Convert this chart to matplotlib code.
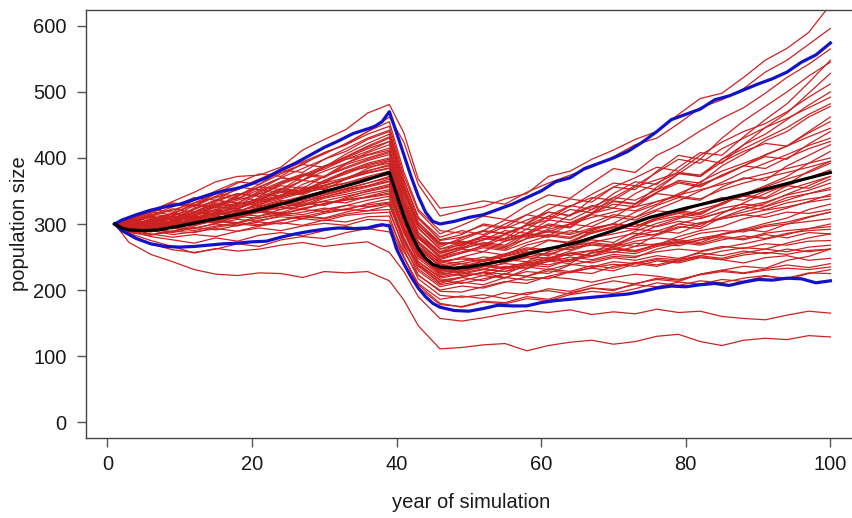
import matplotlib
matplotlib.use("Agg")
import matplotlib.pyplot as plt

plt.rcParams['font.family'] = ['Liberation Sans', 'DejaVu Sans']

# ---- data ----
YRS = [1, 3, 6, 9, 12, 15, 18, 21, 24, 27, 30, 33, 36, 39,
       41, 43, 46,
       49, 52, 55, 58, 61, 64, 67, 70, 73, 76, 79, 82, 85, 88, 91, 94, 97, 100]

runs = [
    # outliers
    [300,272,254,243,231,224,222,226,225,219,228,226,228,214, 185,146,111, 113,117,119,108,116,121,124,118,122,130,133,122,116,124,127,125,131,129],
    [300,286,275,266,256,263,259,262,268,272,266,270,273,257, 228,190,157, 153,158,164,169,166,170,163,167,164,171,166,168,160,157,155,162,168,165],
    [300,284,270,261,257,262,270,266,276,281,278,287,293,288, 250,208,180, 174,182,179,187,184,193,198,195,202,211,207,214,211,218,222,216,225,231],
    [300,308,320,334,348,364,372,374,386,412,428,443,468,481, 438,368,324, 328,335,330,348,362,374,386,402,420,430,452,476,488,505,530,548,572,596],
    [300,304,313,321,332,340,352,366,378,390,408,420,440,462, 424,360,312, 320,326,338,346,372,380,398,412,428,440,466,490,498,522,548,566,590,632],
    # core runs
    [300,289,281,276,271,279,274,283,287,282,290,296,292,300, 249,210,186, 191,187,196,193,202,198,207,214,209,218,215,224,230,226,232,238,234,240],
    [300,293,285,280,284,281,289,294,290,297,301,298,307,305, 258,222,200, 206,203,212,220,217,228,233,229,240,246,243,252,259,264,262,271,279,285],
    [300,296,290,284,288,293,289,297,302,298,306,303,311,312, 251,204,178, 175,183,181,190,186,196,203,199,210,216,213,224,230,236,233,245,251,262],
    [300,290,284,289,295,291,298,303,300,308,305,313,316,318, 266,229,205, 212,208,219,228,225,238,244,251,249,262,270,276,285,292,301,309,322,330],
    [300,295,291,294,290,297,302,299,306,311,308,315,320,322, 262,217,192, 189,193,187,196,199,194,203,201,208,205,212,209,216,213,221,218,226,225],
    [300,297,292,287,294,300,297,306,311,308,316,322,320,328, 275,236,212, 220,227,224,238,246,255,251,266,279,285,296,293,310,322,331,345,358,372],
    [300,287,283,289,287,295,300,297,305,312,309,318,325,330, 270,223,198, 197,205,213,210,221,228,225,236,241,248,246,258,264,270,277,284,293,300],
    [300,294,297,293,300,304,301,309,314,311,318,323,329,333, 279,238,215, 210,217,224,221,229,226,234,239,236,244,241,249,246,253,257,254,260,262],
    [300,291,288,295,293,301,307,304,313,318,324,321,331,338, 279,237,210, 219,227,236,233,248,259,270,266,283,297,308,318,329,345,358,372,392,410],
    [300,298,294,301,298,306,311,309,316,322,319,328,336,342, 286,243,220, 226,222,232,238,235,246,251,258,255,266,272,279,284,290,298,303,311,318],
    [300,289,292,289,298,305,310,318,315,323,331,337,341,347, 291,251,226, 232,244,252,260,275,271,290,301,318,330,346,360,372,388,405,418,438,455],
    [300,294,298,303,299,308,315,312,322,328,334,332,342,350, 289,243,218, 224,231,228,240,247,243,256,262,271,268,281,290,296,308,315,324,334,345],
    [300,295,290,297,305,301,312,318,325,322,331,338,346,352, 296,253,230, 226,232,228,235,231,239,235,243,240,236,244,250,246,241,249,252,245,248],
    [300,290,295,300,308,304,314,320,317,328,335,342,349,356, 294,248,222, 230,238,246,243,258,265,276,272,289,301,310,322,331,344,356,368,378,392],
    [300,298,296,303,311,307,318,322,330,327,339,345,352,360, 303,262,236, 240,236,245,251,248,256,260,257,266,270,267,276,281,278,286,290,293,296],
    [300,288,293,301,297,308,316,325,322,334,341,348,356,364, 301,254,228, 236,244,254,262,259,274,288,296,310,322,335,350,363,379,392,405,419,430],
    [300,296,302,298,306,314,321,317,329,336,344,352,358,368, 310,266,242, 249,246,255,264,261,272,279,285,292,289,300,309,318,326,333,344,351,362],
    [300,292,297,305,301,312,320,327,336,332,344,353,362,372, 308,259,232, 228,235,240,237,243,250,246,254,251,258,262,259,266,263,270,268,274,275],
    [300,297,303,310,306,318,324,333,341,348,356,362,370,376, 316,273,246, 256,268,264,284,298,294,316,334,330,356,376,372,398,420,436,458,480,500],
    [300,290,299,304,313,321,318,330,338,347,354,362,372,380, 315,265,238, 243,250,247,257,264,261,272,279,286,283,294,302,308,314,321,326,333,338],
    [300,299,306,302,314,320,330,335,344,352,359,368,377,384, 322,278,250, 258,266,262,278,290,286,302,314,310,328,340,336,356,370,366,388,404,420],
    [300,292,301,308,305,318,326,335,341,353,362,370,381,388, 322,272,244, 247,243,251,258,254,264,268,265,274,279,276,286,290,288,296,300,304,308],
    [300,297,307,303,318,330,326,340,354,350,366,380,386,392, 329,283,255, 264,276,290,286,306,322,317,340,358,352,376,398,392,420,446,468,498,528],
    [300,294,305,300,316,326,322,338,350,346,364,376,388,396, 324,270,240, 250,258,253,268,276,272,286,296,292,308,318,314,332,344,340,358,370,382],
    [300,299,306,316,312,328,340,336,352,366,362,380,392,400, 335,287,258, 264,270,266,278,284,280,292,300,296,308,316,311,324,330,327,340,346,352],
    [300,296,308,303,318,332,328,346,358,354,372,384,396,405, 334,280,250, 262,272,268,286,300,296,316,330,326,348,366,362,388,406,426,440,462,478],
    [300,302,298,313,322,336,332,348,362,374,370,390,400,410, 342,293,262, 268,276,284,280,292,300,310,318,326,334,344,352,360,368,376,384,392,400],
    [300,304,311,323,318,334,346,342,360,372,383,398,405,415, 342,287,256, 266,282,278,300,318,312,338,356,352,380,404,398,430,456,478,500,524,545],
    [300,298,312,306,322,336,331,350,364,376,372,392,408,420, 350,299,268, 276,289,285,298,312,306,322,335,331,348,362,356,374,388,402,398,421,440],
    [300,306,302,316,329,324,342,356,352,372,386,398,410,425, 355,302,272, 269,281,276,292,288,300,296,311,306,320,317,330,340,336,350,358,354,368],
    [300,301,315,311,328,342,338,356,370,366,386,402,416,430, 354,299,265, 279,290,306,301,322,338,333,356,370,386,380,404,424,440,452,470,492,512],
    [300,307,318,314,332,346,342,360,376,390,386,406,422,436, 364,310,280, 290,284,300,314,308,327,340,336,356,367,378,372,394,410,422,418,440,462],
    [300,304,313,326,340,336,354,368,382,378,398,414,430,442, 366,308,276, 284,300,295,314,330,326,345,362,358,378,398,392,414,430,446,460,476,492],
    [300,310,322,318,336,350,364,360,380,394,408,420,436,448, 373,319,285, 298,312,307,328,344,339,362,384,378,404,420,441,460,476,498,522,542,565],
    [300,306,318,332,328,346,362,376,372,392,406,422,440,455, 379,322,290, 286,298,293,306,318,313,326,340,336,352,364,358,374,388,384,400,414,425],
    [300,290,296,303,310,318,314,326,334,342,350,358,368,375, 306,254,226, 222,226,219,215,220,217,212,219,224,221,216,223,228,225,230,233,231,235],
    [300,295,301,297,309,316,312,324,333,329,341,350,358,365, 302,255,230, 236,231,242,249,244,256,252,262,258,268,274,270,279,276,284,279,287,285],
    [300,302,297,310,318,314,330,338,352,348,364,378,390,398, 332,281,252, 262,258,274,286,282,300,314,310,330,346,342,364,380,392,404,418,432,445],
    [300,297,308,316,312,330,338,352,348,366,380,392,404,412, 347,298,270, 274,268,278,284,280,290,286,294,300,296,304,300,308,314,310,318,316,322],
    [300,305,316,330,326,342,356,352,370,384,398,410,428,440, 366,310,275, 280,290,286,298,306,302,316,324,320,334,342,338,352,362,370,378,386,395],
    [300,292,298,293,304,312,308,320,326,332,328,340,350,358, 292,240,215, 219,214,225,221,232,228,237,233,242,238,246,252,248,256,262,258,265,268],
    [300,296,291,299,306,302,311,318,314,324,330,336,340,345, 294,256,232, 240,236,248,256,252,266,272,268,282,290,286,300,310,318,326,336,346,355],
    [300,299,294,306,314,322,318,332,340,350,358,368,380,390, 320,266,236, 232,238,234,242,238,246,241,249,245,252,248,256,252,259,255,262,258,262],
    [300,301,311,307,324,336,346,342,362,374,388,400,414,425, 350,295,262, 272,268,284,298,294,314,328,324,346,362,378,374,398,414,430,446,466,482],
    [300,292,297,293,300,306,302,312,318,314,322,328,326,332, 274,232,208, 214,222,218,232,244,240,258,270,266,284,300,296,316,332,346,360,380,395],
    [300,298,306,315,311,326,336,346,342,360,372,386,398,408, 336,282,248, 256,264,260,272,282,278,292,300,296,310,320,316,332,342,338,352,362,372],
    [300,294,291,300,307,314,322,318,330,338,346,354,362,370, 304,252,224, 229,236,232,242,250,246,256,262,258,270,276,272,284,292,288,300,310,318],
    [300,303,310,306,318,327,323,336,348,344,358,368,378,385, 326,282,258, 270,282,296,292,312,328,322,346,364,360,386,408,404,432,458,482,514,548],
    [300,304,300,316,330,326,344,356,370,366,386,402,418,432, 359,303,270, 272,278,274,282,288,284,294,300,296,306,312,308,318,326,322,332,338,342],
    [300,296,304,312,308,322,332,328,344,356,352,368,384,395, 326,273,244, 240,246,242,250,256,252,260,264,260,268,272,268,276,282,278,286,290,292],
]

mean_years = [1,2,3,5,7,10,15,20,25,30,35,39,40,41,42,43,44,45,46,48,50,55,60,65,70,75,80,85,90,95,100]
mean_vals  = [300,294,291,290,291,297,308,319,333,349,364,378,345,312,285,263,248,239,235,233,235,245,260,272,290,310,324,337,350,364,378]

band_years = [1,2,4,6,8,10,12,14,16,18,20,22,24,26,28,30,32,34,36,37,38,39,40,41,42,43,44,45,46,48,50,52,54,56,58,60,62,64,66,68,70,72,74,76,78,80,82,84,86,88,90,92,94,96,98,100]
upper_vals = [300,306,314,321,326,330,337,344,350,354,361,370,382,392,404,416,426,437,444,448,455,470,438,405,372,342,318,304,300,304,310,314,322,330,340,350,364,370,384,392,400,410,424,440,458,466,474,488,494,503,512,520,530,545,556,574]
lower_vals = [300,290,278,270,266,265,266,268,270,271,273,274,280,285,289,292,294,293,294,297,299,297,262,240,220,203,190,180,174,169,168,172,177,176,176,181,184,186,188,190,192,194,198,203,206,205,208,210,207,212,216,215,218,217,211,214]

x_ticks = [0, 20, 40, 60, 80, 100]
y_ticks = [0, 100, 200, 300, 400, 500, 600]

# ---- figure ----
W, H = 853, 518
fig = plt.figure(figsize=(W / 100, H / 100), dpi=100)
ax = fig.add_axes([86 / W, (H - 438) / H, (859 - 86) / W, (438 - 10) / H])

for r in runs:
    ax.plot(YRS, r, color='#CC2222', lw=0.9, solid_joinstyle='round')

ax.plot(band_years, upper_vals, color='#1212C8', lw=2.3, solid_joinstyle='round')
ax.plot(band_years, lower_vals, color='#1212C8', lw=2.3, solid_joinstyle='round')
ax.plot(mean_years, mean_vals, color='black', lw=2.3, solid_joinstyle='round')

ax.set_xlim(-2.96, 103.96)
ax.set_ylim(-24, 624)
ax.set_xticks(x_ticks)
ax.set_yticks(y_ticks)
ax.set_xticklabels([str(v) for v in x_ticks])
ax.set_yticklabels([str(v) for v in y_ticks])

for s in ax.spines.values():
    s.set_color('#444444')
    s.set_linewidth(1.0)
ax.spines['right'].set_visible(False)

ax.tick_params(axis='both', length=6.5, width=1.0, color='#555555',
               labelsize=14.5, labelcolor='#1a1a1a')
ax.tick_params(axis='x', pad=6)
ax.tick_params(axis='y', pad=7.5)

fig.text(471 / W, 1 - 503 / H, 'year of simulation', ha='center', va='center',
         fontsize=14.5, color='#1a1a1a')
fig.text(20 / W, 1 - 224 / H, 'population size', ha='center', va='center',
         rotation=90, fontsize=14.5, color='#1a1a1a')

fig.savefig('out.png', dpi=100)
